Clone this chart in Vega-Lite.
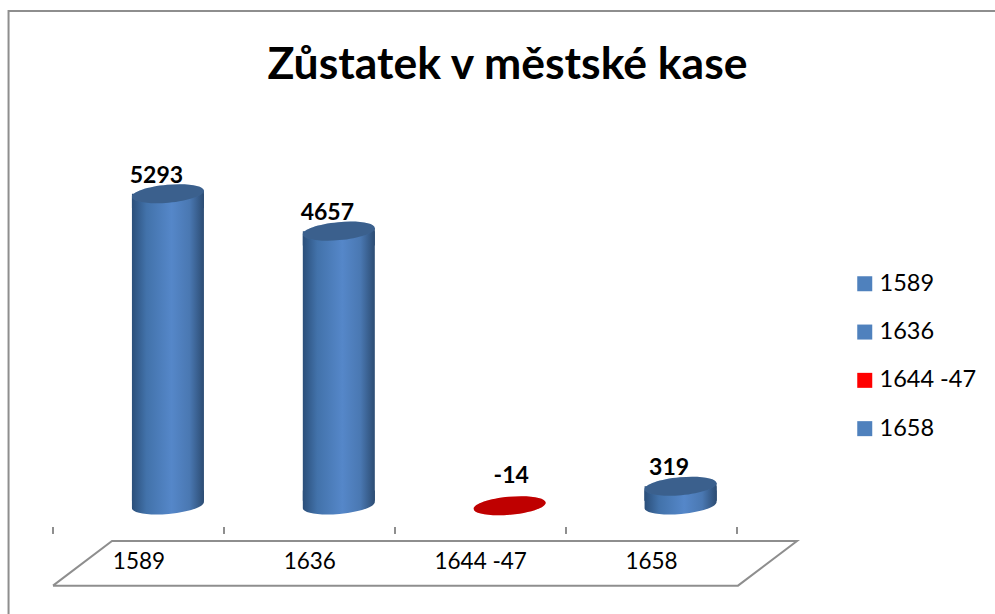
{
  "$schema": "https://vega.github.io/schema/vega-lite/v6.json",
  "width": 995, "height": 614, "padding": 0,
  "autosize": {"type": "none"},
  "background": "white",
  "config": {"view": {"stroke": null}, "font": "Lato"},
  "title": {"text": "Zůstatek v městské kase", "font": "Lato", "fontSize": 44.5, "fontWeight": "bold", "color": "black", "anchor": "middle", "frame": "group", "offset": 0, "dy": 123, "dx": 10, "baseline": "alphabetic"},
  "datasets": {
    "rows": [
      {"period": "1589", "legendName": "1589", "value": 5293},
      {"period": "1636", "legendName": "1636", "value": 4657},
      {"period": "1644 -47", "legendName": "\u00a01644 -47", "value": -14},
      {"period": "1658", "legendName": "1658", "value": 319}
    ],
    "outline": [
      {"part": "frame", "step": 1, "u": -0.26, "v": -1854},
      {"part": "frame", "step": 2, "u": -0.26, "v": 8401},
      {"part": "frame", "step": 3, "u": 5.51, "v": 8401},
      {"part": "floor", "step": 1, "u": 0, "v": -1372},
      {"part": "floor", "step": 2, "u": 0.345, "v": -612},
      {"part": "floor", "step": 3, "u": 4.351, "v": -612},
      {"part": "floor", "step": 4, "u": 4.006, "v": -1372},
      {"part": "floor", "step": 5, "u": 0, "v": -1372}
    ],
    "ticks": [
      {"u": 0, "v": -374, "v2": -493},
      {"u": 1, "v": -374, "v2": -493},
      {"u": 2, "v": -374, "v2": -493},
      {"u": 3, "v": -374, "v2": -493},
      {"u": 4, "v": -374, "v2": -493}
    ]
  },
  "resolve": {"scale": {"x": "independent"}},
  "layer": [
    {
      "layer": [
        {
          "data": {"name": "outline"},
          "mark": {"type": "line", "stroke": "#8e8e8e", "strokeWidth": 2},
          "encoding": {
            "x": {"field": "u", "type": "quantitative", "axis": null, "scale": {"domain": [-0.31, 5.509], "nice": false, "zero": false}},
            "y": {"field": "v", "type": "quantitative", "axis": null, "scale": {"domain": [-1854, 8588], "nice": false, "zero": false}},
            "detail": {"field": "part"},
            "order": {"field": "step"}
          }
        },
        {
          "data": {"name": "ticks"},
          "mark": {"type": "rule", "stroke": "#8e8e8e", "strokeWidth": 2},
          "encoding": {
            "x": {"field": "u", "type": "quantitative", "axis": null, "scale": {"domain": [-0.31, 5.509], "nice": false, "zero": false}},
            "y": {"field": "v", "type": "quantitative", "axis": null, "scale": {"domain": [-1854, 8588], "nice": false, "zero": false}},
            "y2": {"field": "v2"}
          }
        }
      ]
    },
    {
      "data": {"name": "rows"},
      "encoding": {
        "x": {
          "field": "period", "type": "nominal", "sort": null,
          "scale": {"domain": ["1589", "1636", "1644 -47", "1658"], "range": [53.5, 737], "paddingInner": 0, "paddingOuter": 0},
          "axis": {"orient": "bottom", "title": null, "domain": false, "ticks": false, "grid": false, "labelAngle": 0, "labelFont": "Lato", "labelFontSize": 22.5, "labelColor": "black", "labelBaseline": "alphabetic", "labelPadding": 0, "offset": -46, "labelOverlap": false}
        },
        "y": {"field": "value", "type": "quantitative", "axis": null, "scale": {"domain": [-1854, 8588], "nice": false, "zero": false}}
      },
      "layer": [
        {
          "transform": [{"filter": "datum.value > 0"}],
          "mark": {"type": "bar", "size": 72, "xOffset": 29, "fill": {"gradient": "linear", "x1": 0, "x2": 1, "y1": 0, "y2": 0, "stops": [{"offset": 0, "color": "#2b4f7a"}, {"offset": 0.2, "color": "#4272aa"}, {"offset": 0.55, "color": "#5587c9"}, {"offset": 0.8, "color": "#4a78b2"}, {"offset": 1, "color": "#2c4c73"}]}},
          "encoding": {"y2": {"datum": 70}}
        },
        {
          "transform": [{"filter": "datum.value > 0"}],
          "mark": {"type": "point", "filled": true, "opacity": 1, "size": 5184, "xOffset": 29, "shape": "M-1,0.4L1,0.4L1,-0.09L-1,0.09Z", "fill": {"gradient": "linear", "x1": 0, "x2": 1, "y1": 0, "y2": 0, "stops": [{"offset": 0, "color": "#2b4f7a"}, {"offset": 0.2, "color": "#4272aa"}, {"offset": 0.55, "color": "#5587c9"}, {"offset": 0.8, "color": "#4a78b2"}, {"offset": 1, "color": "#2c4c73"}]}}
        },
        {
          "transform": [{"filter": "datum.value > 0"}],
          "mark": {"type": "point", "filled": true, "opacity": 1, "size": 5184, "xOffset": 29, "shape": "M-1,-0.4L1,-0.4L1,-0.09A1.004,0.25,-5.2,0,1,-1,0.09Z", "fill": {"gradient": "linear", "x1": 0, "x2": 1, "y1": 0, "y2": 0, "stops": [{"offset": 0, "color": "#2b4f7a"}, {"offset": 0.2, "color": "#4272aa"}, {"offset": 0.55, "color": "#5587c9"}, {"offset": 0.8, "color": "#4a78b2"}, {"offset": 1, "color": "#2c4c73"}]}},
          "encoding": {"y": {"datum": 0, "type": "quantitative", "axis": null, "scale": {"domain": [-1854, 8588], "nice": false, "zero": false}}}
        },
        {
          "mark": {"type": "point", "filled": true, "opacity": 1, "size": 5184, "xOffset": 29, "shape": "M-1,0.09A1.004,0.25,-5.2,1,1,1,-0.09A1.004,0.25,-5.2,1,1,-1,0.09Z"},
          "encoding": {
            "color": {
              "field": "legendName", "type": "nominal",
              "scale": {"domain": ["1589", "1636", "\u00a01644 -47", "1658"], "range": ["#4f81bd", "#4f81bd", "#ff0000", "#4f81bd"]},
              "legend": {"orient": "none", "legendX": 853, "legendY": 272, "title": null, "symbolType": "square", "symbolSize": 225, "symbolStrokeWidth": 0, "labelFont": "Lato", "labelFontSize": 23.5, "labelColor": "black", "labelOffset": 3, "rowPadding": 23.3, "labelLimit": 200}
            }
          }
        },
        {
          "mark": {"type": "point", "filled": true, "opacity": 0.25, "size": 5184, "xOffset": 29, "color": "black", "shape": "M-1,0.09A1.004,0.25,-5.2,1,1,1,-0.09A1.004,0.25,-5.2,1,1,-1,0.09Z"}
        },
        {
          "transform": [{"filter": "datum.value > 0"}],
          "mark": {"type": "text", "font": "Lato", "fontSize": 23, "fontWeight": "bold", "color": "black", "baseline": "alphabetic", "dx": 17.5, "dy": -11},
          "encoding": {"text": {"field": "value", "type": "nominal"}}
        },
        {
          "transform": [{"filter": "datum.value < 0"}],
          "mark": {"type": "text", "font": "Lato", "fontSize": 23, "fontWeight": "bold", "color": "black", "baseline": "alphabetic", "dx": 30.5, "dy": -23},
          "encoding": {"text": {"field": "value", "type": "nominal"}}
        }
      ]
    }
  ]
}
